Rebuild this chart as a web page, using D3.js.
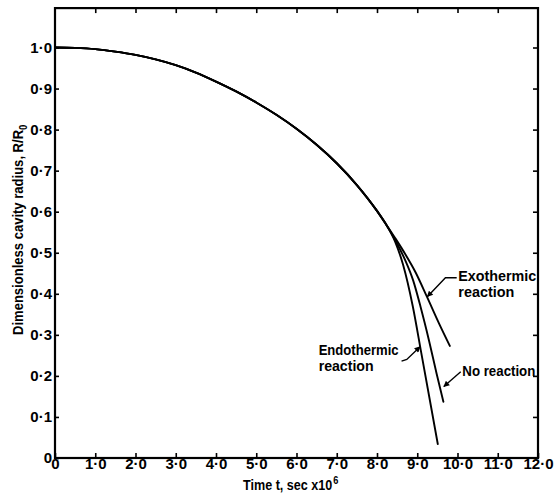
<!DOCTYPE html>
<html>
<head>
<meta charset="utf-8">
<script src="https://cdn.jsdelivr.net/npm/d3@7/dist/d3.min.js"></script>
<style>
  html, body { margin: 0; padding: 0; background: #fff; }
  svg { display: block; }
  .lbl { font-family: "Liberation Sans", Arial, sans-serif; font-weight: bold; fill: #000; }
</style>
</head>
<body>
<svg id="chart" width="554" height="497"></svg>
<script>
// Collapse history shared by all three cases (time in microseconds, R/R0)
const baseTime   = [0, 0.5, 1.0, 1.5, 2.0, 2.5, 3.0, 3.5, 4.0, 4.5, 5.0, 5.5, 6.0, 6.5, 7.0, 7.5, 8.0, 8.2];
const baseRadius = [1.0, 0.999, 0.996, 0.99, 0.982, 0.971, 0.957, 0.939, 0.917, 0.893, 0.866, 0.836, 0.802, 0.763, 0.718, 0.665, 0.602, 0.573];

// Branches after the curves separate
const exoTime    = [8.45, 8.7, 8.96, 9.24, 9.54, 9.81];
const exoRadius  = [0.536, 0.497, 0.452, 0.393, 0.328, 0.273];
const noneTime   = [8.45, 8.7, 8.9, 9.08, 9.29, 9.48, 9.65];
const noneRadius = [0.531, 0.482, 0.432, 0.369, 0.287, 0.206, 0.137];
const endoTime   = [8.45, 8.65, 8.89, 9.1, 9.3, 9.51];
const endoRadius = [0.527, 0.47, 0.369, 0.256, 0.148, 0.034];

const seriesNames = ["Exothermic reaction", "No reaction", "Endothermic reaction"];

const xTicks = [0, 1, 2, 3, 4, 5, 6, 7, 8, 9, 10, 11, 12];
const xTickLabels = ["0", "1·0", "2·0", "3·0", "4·0", "5·0", "6·0", "7·0", "8·0", "9·0", "10·0", "11·0", "12·0"];
const yTicks = [0, 0.1, 0.2, 0.3, 0.4, 0.5, 0.6, 0.7, 0.8, 0.9, 1.0];
const yTickLabels = ["0", "0·1", "0·2", "0·3", "0·4", "0·5", "0·6", "0·7", "0·8", "0·9", "1·0"];

const svg = d3.select("#chart");
const x = d3.scaleLinear().domain([0, 12]).range([55, 538]);
const y = d3.scaleLinear().domain([0, 1]).range([458, 47.5]);
const yTop = 1.096;

const toPts = (ts, rs) => ts.map((t, i) => [t, rs[i]]);
const base = toPts(baseTime, baseRadius);
const series = [
  base.concat(toPts(exoTime, exoRadius)),
  base.concat(toPts(noneTime, noneRadius)),
  base.concat(toPts(endoTime, endoRadius))
];

const line = d3.line().x(d => x(d[0])).y(d => y(d[1])).curve(d3.curveMonotoneX);

// frame
svg.append("rect")
  .attr("x", x(0)).attr("y", y(yTop))
  .attr("width", x(12) - x(0)).attr("height", y(0) - y(yTop))
  .attr("fill", "none").attr("stroke", "#000").attr("stroke-width", 2.2);

// inward ticks on all four sides
const styleAxis = g => {
  g.select(".domain").remove();
  g.selectAll(".tick line").attr("stroke", "#000").attr("stroke-width", 1.6);
  g.selectAll(".tick text").attr("class", "lbl").style("font-size", "15px");
};

svg.append("g").attr("transform", `translate(0,${y(0)})`)
  .call(d3.axisBottom(x).tickValues(xTicks).tickFormat((d, i) => xTickLabels[i]).tickSize(-5).tickPadding(0))
  .call(styleAxis);

svg.append("g").attr("transform", `translate(${x(0)},0)`)
  .call(d3.axisLeft(y).tickValues(yTicks).tickFormat((d, i) => yTickLabels[i]).tickSize(-4).tickPadding(3))
  .call(styleAxis);

svg.append("g").attr("transform", `translate(0,${y(yTop)})`)
  .call(d3.axisTop(x).tickValues(xTicks.slice(1, -1)).tickFormat("").tickSize(-5))
  .call(styleAxis);

svg.append("g").attr("transform", `translate(${x(12)},0)`)
  .call(d3.axisRight(y).tickValues(yTicks.slice(1)).tickFormat("").tickSize(-5))
  .call(styleAxis);

// curves
svg.append("g").selectAll("path").data(series).join("path")
  .attr("d", line)
  .attr("fill", "none").attr("stroke", "#000").attr("stroke-width", 1.9)
  .attr("stroke-linejoin", "round").attr("stroke-linecap", "round");

// leader lines with arrowheads
svg.append("defs").append("marker")
  .attr("id", "arrow").attr("viewBox", "0 0 10 10")
  .attr("refX", 9).attr("refY", 5)
  .attr("markerWidth", 7).attr("markerHeight", 6).attr("markerUnits", "userSpaceOnUse")
  .attr("orient", "auto")
  .append("path").attr("d", "M0,0 L10,5 L0,10 z").attr("fill", "#000");

const leaders = [
  [[9.98, 0.439], [9.7, 0.439], [9.25, 0.393]],
  [[10.08, 0.21], [9.66, 0.174]],
  [[8.61, 0.236], [8.74, 0.24], [9.07, 0.271]]
];
const pline = d3.line().x(d => x(d[0])).y(d => y(d[1]));
svg.append("g").selectAll("path").data(leaders).join("path")
  .attr("d", pline)
  .attr("fill", "none").attr("stroke", "#000").attr("stroke-width", 1.4)
  .attr("marker-end", "url(#arrow)");

// labels
const labels = svg.append("g").attr("class", "lbl").style("font-size", "15px");
const exoLbl = labels.append("text").attr("x", x(10.02)).attr("y", y(0.432));
exoLbl.append("tspan").attr("textLength", 78).attr("lengthAdjust", "spacingAndGlyphs").text("Exothermic");
exoLbl.append("tspan").attr("x", x(10.02)).attr("dy", 16).attr("textLength", 56).attr("lengthAdjust", "spacingAndGlyphs").text("reaction");

labels.append("text").attr("x", x(10.12)).attr("y", y(0.2))
  .attr("textLength", 73).attr("lengthAdjust", "spacingAndGlyphs").text("No reaction");

const endoLbl = labels.append("text").attr("x", x(6.55)).attr("y", y(0.25));
endoLbl.append("tspan").attr("textLength", 80).attr("lengthAdjust", "spacingAndGlyphs").text("Endothermic");
endoLbl.append("tspan").attr("x", x(6.55)).attr("dy", 16).attr("textLength", 55).attr("lengthAdjust", "spacingAndGlyphs").text("reaction");

// axis titles, horizontally condensed
const xt = svg.append("g").attr("transform", "translate(243,490) scale(0.84,1)")
  .append("text").attr("class", "lbl").style("font-size", "15px");
xt.append("tspan").text("Time t, sec x10");
xt.append("tspan").attr("dx", 1).attr("dy", -6).style("font-size", "11px").text("6");

const yt = svg.append("g").attr("transform", "translate(23,335) rotate(-90) scale(0.87,1)")
  .append("text").attr("class", "lbl").style("font-size", "15px");
yt.append("tspan").text("Dimensionless cavity radius, R/R");
yt.append("tspan").attr("dy", 4).style("font-size", "11px").text("0");
</script>
</body>
</html>
